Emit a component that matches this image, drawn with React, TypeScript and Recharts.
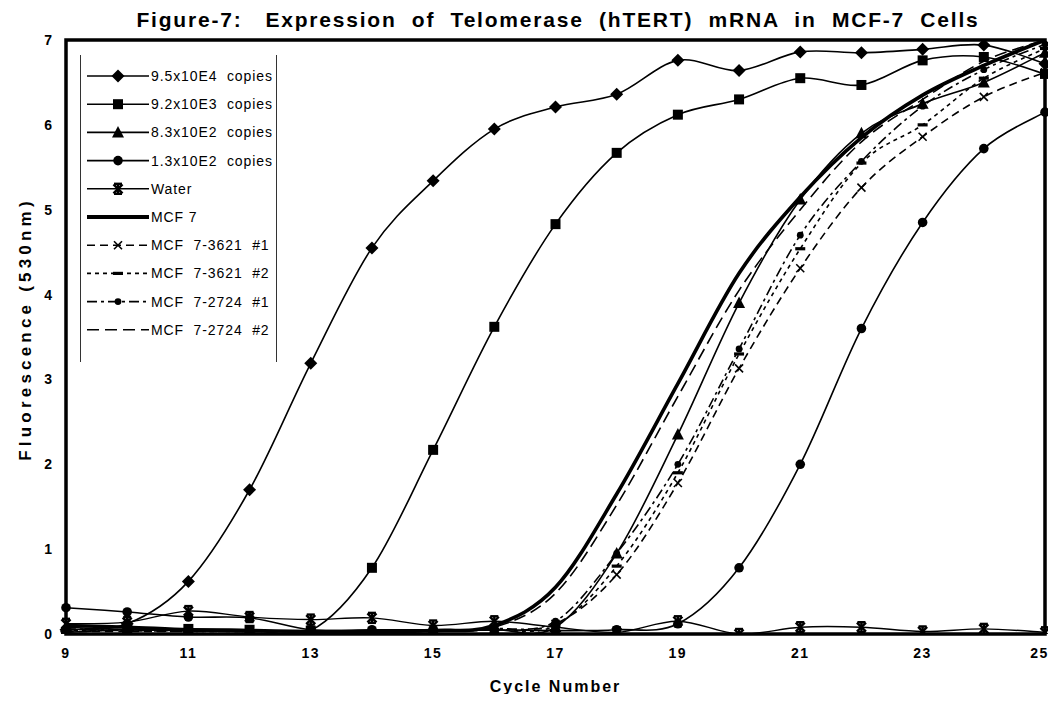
import React from 'react';
import { LineChart, Line, XAxis, YAxis, ReferenceArea } from 'recharts';

// ---------- data ----------
const cycles = [9, 10, 11, 12, 13, 14, 15, 16, 17, 18, 19, 20, 21, 22, 23, 24, 25];
const yTicks = [0, 1, 2, 3, 4, 5, 6, 7];
const xTicks = [9, 11, 13, 15, 17, 19, 21, 23, 25];

const copies95E4 = [0.05, 0.12, 0.62, 1.70, 3.19, 4.55, 5.34, 5.95, 6.21, 6.36, 6.76, 6.64, 6.86, 6.85, 6.89, 6.94, 6.72];
const copies92E3 = [0.02, 0.05, 0.06, 0.05, 0.04, 0.78, 2.17, 3.62, 4.83, 5.67, 6.12, 6.30, 6.55, 6.47, 6.76, 6.80, 6.60];
const copies83E2 = [0.08, 0.05, 0.04, 0.03, 0.03, 0.03, 0.04, 0.05, 0.08, 0.95, 2.35, 3.90, 5.12, 5.90, 6.25, 6.50, 6.85];
const copies13E2 = [0.31, 0.26, 0.20, 0.19, 0.05, 0.05, 0.05, 0.05, 0.04, 0.05, 0.12, 0.78, 2.00, 3.60, 4.85, 5.72, 6.15];
const water = [0.12, 0.14, 0.27, 0.20, 0.17, 0.19, 0.10, 0.15, 0.08, 0.02, 0.15, 0.00, 0.08, 0.08, 0.03, 0.06, 0.02];
const mcf7 = [0.10, 0.08, 0.05, 0.04, 0.03, 0.03, 0.04, 0.10, 0.55, 1.65, 2.95, 4.25, 5.15, 5.85, 6.35, 6.70, 7.00];
const mcf3621a = [0.03, 0.03, 0.03, 0.03, 0.03, 0.03, 0.04, 0.05, 0.12, 0.70, 1.78, 3.13, 4.31, 5.26, 5.86, 6.33, 6.62];
const mcf3621b = [0.04, 0.04, 0.03, 0.03, 0.03, 0.03, 0.03, 0.05, 0.10, 0.80, 1.90, 3.30, 4.54, 5.55, 6.00, 6.55, 6.90];
const mcf2724a = [0.06, 0.05, 0.04, 0.04, 0.03, 0.03, 0.04, 0.06, 0.15, 0.95, 2.00, 3.36, 4.70, 5.57, 6.22, 6.65, 6.95];
const mcf2724b = [0.05, 0.04, 0.04, 0.03, 0.03, 0.03, 0.04, 0.08, 0.48, 1.52, 2.80, 4.05, 5.00, 5.80, 6.30, 6.75, 7.00];

const seriesNames = [
  '9.5x10E4  copies',
  '9.2x10E3  copies',
  '8.3x10E2  copies',
  '1.3x10E2  copies',
  'Water',
  'MCF 7',
  'MCF  7-3621  #1',
  'MCF  7-3621  #2',
  'MCF  7-2724  #1',
  'MCF  7-2724  #2',
];

const rows = cycles.map((c, i) => ({
  cycle: c,
  s0: copies95E4[i],
  s1: copies92E3[i],
  s2: copies83E2[i],
  s3: copies13E2[i],
  s4: water[i],
  s5: mcf7[i],
  s6: mcf3621a[i],
  s7: mcf3621b[i],
  s8: mcf2724a[i],
  s9: mcf2724b[i],
}));

// ---------- markers ----------
type MK = 'diamond' | 'square' | 'triangle' | 'circle' | 'star' | 'cross' | 'dash' | 'dot' | 'none';

const Marker = ({ kind, x, y }: { kind: MK; x: number; y: number }) => {
  switch (kind) {
    case 'diamond':
      return <polygon points={`${x},${y - 6.5} ${x + 6.5},${y} ${x},${y + 6.5} ${x - 6.5},${y}`} fill="#000" />;
    case 'square':
      return <rect x={x - 5} y={y - 5} width={10} height={10} fill="#000" />;
    case 'triangle':
      return <polygon points={`${x},${y - 6.5} ${x + 6},${y + 5} ${x - 6},${y + 5}`} fill="#000" />;
    case 'circle':
      return <circle cx={x} cy={y} r={4.8} fill="#000" />;
    case 'star':
      return (
        <g stroke="#000" strokeWidth={2.4}>
          <line x1={x} y1={y - 5} x2={x} y2={y + 5} />
          <line x1={x - 4.5} y1={y - 4.5} x2={x + 4.5} y2={y + 4.5} />
          <line x1={x + 4.5} y1={y - 4.5} x2={x - 4.5} y2={y + 4.5} />
          <line x1={x - 4} y1={y - 5} x2={x + 4} y2={y - 5} />
          <line x1={x - 4} y1={y + 5} x2={x + 4} y2={y + 5} />
        </g>
      );
    case 'cross':
      return (
        <g stroke="#000" strokeWidth={1.6}>
          <line x1={x - 4} y1={y - 4} x2={x + 4} y2={y + 4} />
          <line x1={x + 4} y1={y - 4} x2={x - 4} y2={y + 4} />
        </g>
      );
    case 'dash':
      return <rect x={x - 5} y={y - 1.6} width={10} height={3.2} fill="#000" />;
    case 'dot':
      return <circle cx={x} cy={y} r={3.4} fill="#000" />;
    default:
      return null;
  }
};

const markers: MK[] = ['diamond', 'square', 'triangle', 'circle', 'star', 'none', 'cross', 'dash', 'dot', 'none'];
const widths = [1.6, 1.6, 1.6, 1.6, 1.4, 3.6, 1.6, 1.6, 1.6, 1.6];
const dashes = ['', '', '', '', '', '', '8 5', '4 4', '10 4 3 4', '12 6'];

const makeDot = (kind: MK) => (props: any) => {
  const { cx, cy, index } = props;
  if (kind === 'none' || cx == null || cy == null) return <g key={`n${index}`} />;
  return (
    <g key={`m${kind}${index}`}>
      <Marker kind={kind} x={cx} y={cy} />
    </g>
  );
};

// Excel-like smoothed line (Catmull-Rom through every point)
const smooth = (context: any) => {
  let pts: number[][] = [];
  return {
    areaStart() {},
    areaEnd() {},
    lineStart() {
      pts = [];
    },
    point(x: number, y: number) {
      pts.push([+x, +y]);
    },
    lineEnd() {
      const n = pts.length;
      if (!n) return;
      context.moveTo(pts[0][0], pts[0][1]);
      if (n === 1) return;
      for (let i = 0; i < n - 1; i++) {
        const p0 = pts[i - 1] || pts[i];
        const p1 = pts[i];
        const p2 = pts[i + 1];
        const p3 = pts[i + 2] || pts[i + 1];
        context.bezierCurveTo(
          p1[0] + (p2[0] - p0[0]) / 6,
          p1[1] + (p2[1] - p0[1]) / 6,
          p2[0] - (p3[0] - p1[0]) / 6,
          p2[1] - (p3[1] - p1[1]) / 6,
          p2[0],
          p2[1]
        );
      }
    },
  };
};

const font = "'Liberation Sans', Arial, Helvetica, sans-serif";

// ---------- legend ----------
const LegendBox = () => (
  <div
    style={{
      position: 'absolute',
      left: 72,
      top: 47,
      width: 197,
      height: 307,
      borderLeft: '1px solid #333',
      borderRight: '1px solid #333',
      background: '#fff',
      boxSizing: 'border-box',
    }}
  >
    <svg width={195} height={307} style={{ display: 'block' }}>
      {seriesNames.map((name, i) => {
        const y = 21 + i * 28.2;
        return (
          <g key={name}>
            <line x1={6} y1={y} x2={68} y2={y} stroke="#000" strokeWidth={i === 5 ? 4 : 1.6} strokeDasharray={dashes[i] || undefined} />
            <Marker kind={markers[i]} x={37} y={y} />
            <text x={70} y={y + 5} fontFamily={font} fontSize={14} letterSpacing={0.9} fill="#000" style={{ whiteSpace: 'pre' }}>
              {name}
            </text>
          </g>
        );
      })}
    </svg>
  </div>
);

export default function App() {
  return (
    <div style={{ position: 'relative', width: 1040, height: 686, background: '#fff' }}>
      <LineChart
        width={1040}
        height={686}
        data={rows}
        margin={{ top: 32, right: 3, left: 18, bottom: 30 }}
        style={{ overflow: 'visible' }}
      >
        <XAxis
          dataKey="cycle"
          type="number"
          domain={[9, 25]}
          ticks={xTicks}
          axisLine={false}
          tickLine={false}
          tickSize={0}
          tickMargin={14}
          height={30}
          tick={{ fontFamily: font, fontSize: 14, fontWeight: 'bold', fill: '#000', letterSpacing: 1.5 }}
          label={{ value: 'Cycle  Number', position: 'bottom', offset: 17, style: { fontFamily: font, fontSize: 16, fontWeight: 'bold', fill: '#000', letterSpacing: 2, whiteSpace: 'pre' } }}
        />
        <YAxis
          type="number"
          domain={[0, 7]}
          ticks={yTicks}
          axisLine={false}
          tickLine={false}
          tickSize={0}
          tickMargin={14}
          width={40}
          allowDataOverflow
          tick={{ fontFamily: font, fontSize: 14, fontWeight: 'bold', fill: '#000' }}
          label={{ value: 'Fluorescence  (530nm)', angle: -90, position: 'center', dx: -21, dy: -8, style: { fontFamily: font, fontSize: 17, fontWeight: 'bold', fill: '#000', letterSpacing: 4.2, whiteSpace: 'pre' } }}
        />
        <ReferenceArea x1={9} x2={25} y1={0} y2={7} fill="none" stroke="#000" strokeWidth={3.5} ifOverflow="visible" />
        {seriesNames.map((name, i) => (
          <Line
            key={name}
            name={name}
            dataKey={`s${i}`}
            type={smooth as any}
            stroke="#000"
            strokeWidth={widths[i]}
            strokeDasharray={dashes[i] || undefined}
            dot={makeDot(markers[i])}
            activeDot={false}
            isAnimationActive={false}
          />
        ))}
      </LineChart>
      <LegendBox />
      <div
        style={{
          position: 'absolute',
          left: 0,
          width: 1100,
          top: 0,
          textAlign: 'center',
          fontFamily: font,
          fontWeight: 'bold',
          fontSize: 21,
          letterSpacing: 1.8,
          whiteSpace: 'pre',
          color: '#000',
        }}
      >
        {'Figure-7:   Expression  of  Telomerase  (hTERT)  mRNA  in  MCF-7  Cells'}
      </div>
    </div>
  );
}
